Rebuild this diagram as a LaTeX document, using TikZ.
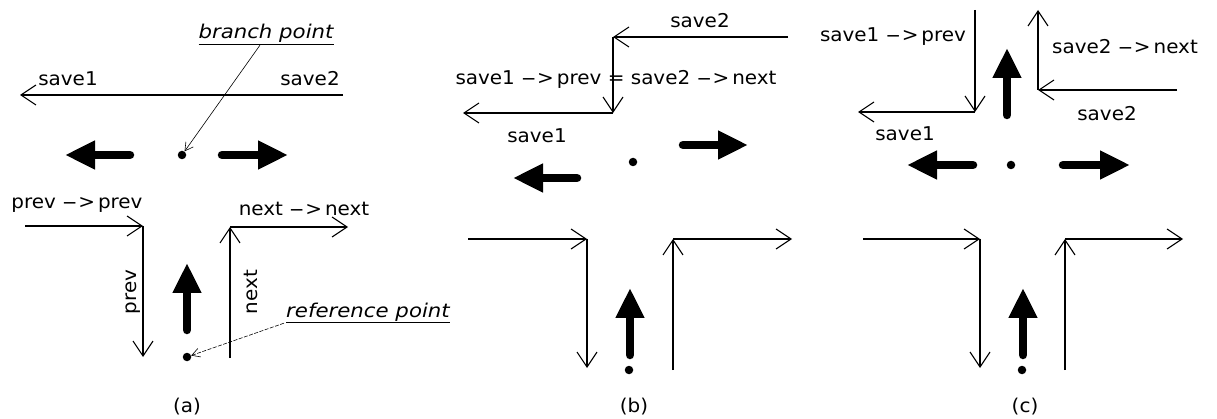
\documentclass[tikz,border=0pt]{standalone}
\usepackage{fontspec}
\usepackage{graphicx}
\usetikzlibrary{arrows.meta}
\newfontfamily\lblfont[FakeStretch=1.05]{DejaVu Sans}
\newfontfamily\annfont[FakeStretch=1.12]{DejaVu Sans}
\newcommand\arw{\kern6pt\scalebox{2.2}[1]{-}\kern0.5pt>\kern3pt}
\tikzset{
  lbl/.style={font=\lblfont\fontsize{19}{22}\selectfont, inner sep=0pt, anchor=base},
  annlbl/.style={font=\annfont\itshape\fontsize{19}{22}\selectfont, inner sep=0pt, anchor=base},
  ptr/.style={line width=1.1pt, -{Straight Barb[length=15pt,width=20pt]}},
  fatarrow/.style={line width=8.5pt, line cap=round, -{Triangle[length=30pt,width=27pt]}},
  annarrow/.style={line width=0.6pt, -{Straight Barb[length=8pt,width=9pt]}},
  dotn/.style={circle, fill, inner sep=0pt, minimum size=8.5pt}
}
\begin{document}
\begin{tikzpicture}[x=1pt,y=-1pt]
\useasboundingbox[fill=white] (0,0) rectangle (1217,419);

% ---------------- (a) ----------------
\node[annlbl] (bp) at (266,39) {\underline{branch point}};
\node[lbl] (as1) at (68,86) {save1};
\node[lbl] (as2) at (310,86) {save2};
\coordinate (aS2) at (343,95);
\coordinate (aS1) at (20,95);
\draw[ptr] (aS2) -- (aS1);
\node[dotn] (adot1) at (182,155) {};
\draw[fatarrow] (130,155) coordinate (aLt) -- (65,155) coordinate (aLh);
\draw[fatarrow] (222,155) coordinate (aRt) -- (288,155) coordinate (aRh);
\draw[annarrow] ([xshift=-6pt]bp.south) -- (adot1);

\node[lbl] (app) at (77,209) {prev\arw prev};
\node[lbl] (ann) at (304,216) {next\arw next};
\coordinate (aP0) at (25,226);
\coordinate (aP1) at (143,226);
\coordinate (aP2) at (143,357);
\draw[ptr] (aP0) -- (aP1);
\draw[ptr] (aP1) -- (aP2);
\coordinate (aN0) at (230,358);
\coordinate (aN1) at (230,227);
\coordinate (aN2) at (348,227);
\draw[ptr] (aN0) -- (aN1);
\draw[ptr] (aN1) -- (aN2);
\node[lbl, rotate=90] (aprev) at (136,292) {prev};
\node[lbl, rotate=90] (anext) at (257,292) {next};
\draw[fatarrow] (187,330) coordinate (aUt) -- (187,263) coordinate (aUh);
\node[dotn] (adot2) at (187,357) {};
\node[annlbl] (rp) at (368,317) {\underline{reference point}};
\draw[annarrow, dash pattern=on 4pt off 1.5pt] ([xshift=-2pt]rp.south west) -- (adot2);
\node[lbl, anchor=center] (capa) at (187,407) {(a)};

% ---------------- (b) ----------------
\coordinate (bS2a) at (788,37);
\coordinate (bS2b) at (613,37);
\coordinate (bS1a) at (613,113);
\coordinate (bS1b) at (463,113);
\draw[ptr] (bS2a) -- (bS2b);
\draw[ptr] (bS2b) -- (bS1a);
\draw[ptr] (bS1a) -- (bS1b);
\node[lbl] (bs2) at (700,28) {save2};
\node[lbl] (beq) at (616,85) {save1\arw prev = save2\arw next};
\node[lbl] (bs1) at (537,143) {save1};
\draw[fatarrow] (683,145) coordinate (bRt) -- (748,145) coordinate (bRh);
\draw[fatarrow] (577,178) coordinate (bLt) -- (513,178) coordinate (bLh);
\node[dotn] (bdot1) at (633,162) {};
\coordinate (bP0) at (468,239);
\coordinate (bP1) at (587,239);
\coordinate (bP2) at (587,368);
\draw[ptr] (bP0) -- (bP1);
\draw[ptr] (bP1) -- (bP2);
\coordinate (bN0) at (673,370);
\coordinate (bN1) at (673,239);
\coordinate (bN2) at (792,239);
\draw[ptr] (bN0) -- (bN1);
\draw[ptr] (bN1) -- (bN2);
\draw[fatarrow] (630,355) coordinate (bUt) -- (630,288) coordinate (bUh);
\node[dotn] (bdot2) at (629,370) {};
\node[lbl, anchor=center] (capb) at (634,407) {(b)};

% ---------------- (c) ----------------
\coordinate (cV1a) at (975,10);
\coordinate (cV1b) at (975,112);
\coordinate (cH1) at (858,112);
\draw[ptr] (cV1a) -- (cV1b);
\draw[ptr] (cV1b) -- (cH1);
\coordinate (cV2a) at (1038,90);
\coordinate (cV2b) at (1038,10);
\coordinate (cH2) at (1177,90);
\draw[ptr] (cV2a) -- (cV2b);
\draw[ptr] (cH2) -- (cV2a);
\node[lbl] (csp) at (893,42) {save1\arw prev};
\node[lbl] (csn) at (1125,54) {save2\arw next};
\node[lbl] (cs1) at (905,141) {save1};
\node[lbl] (cs2) at (1107,121) {save2};
\draw[fatarrow] (1007,115) coordinate (cUt1) -- (1007,48) coordinate (cUh1);
\draw[fatarrow] (973,165) coordinate (cLt) -- (907,165) coordinate (cLh);
\draw[fatarrow] (1063,165) coordinate (cRt) -- (1130,165) coordinate (cRh);
\node[dotn] (cdot1) at (1011,165) {};
\coordinate (cP0) at (863,239);
\coordinate (cP1) at (980,239);
\coordinate (cP2) at (980,368);
\draw[ptr] (cP0) -- (cP1);
\draw[ptr] (cP1) -- (cP2);
\coordinate (cN0) at (1065,370);
\coordinate (cN1) at (1065,239);
\coordinate (cN2) at (1183,239);
\draw[ptr] (cN0) -- (cN1);
\draw[ptr] (cN1) -- (cN2);
\draw[fatarrow] (1023,355) coordinate (cUt2) -- (1023,288) coordinate (cUh2);
\node[dotn] (cdot2) at (1022,370) {};
\node[lbl, anchor=center] (capc) at (1025,407) {(c)};
\end{tikzpicture}
\end{document}
